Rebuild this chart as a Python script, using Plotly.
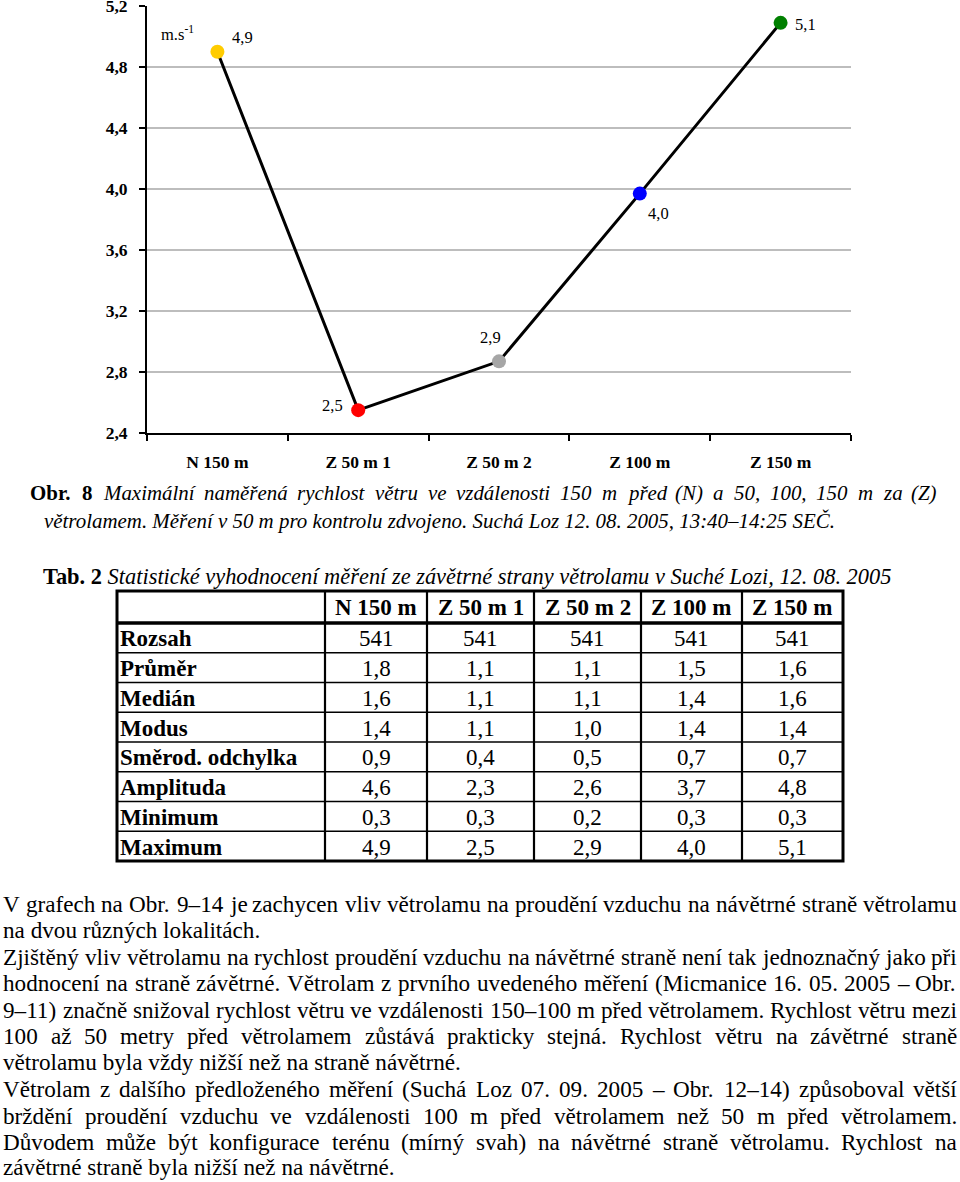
import unicodedata
import plotly.graph_objects as go

# ---------------- data ----------------
categories = ["N 150 m", "Z 50 m 1", "Z 50 m 2", "Z 100 m", "Z 150 m"]
max_speed = [4.9, 2.55, 2.87, 3.97, 5.09]
max_speed_labels = ["4,9", "2,5", "2,9", "4,0", "5,1"]
y_ticks = [2.4, 2.8, 3.2, 3.6, 4.0, 4.4, 4.8, 5.2]

table_columns = ["N 150 m", "Z 50 m 1", "Z 50 m 2", "Z 100 m", "Z 150 m"]
table_rows = ["Rozsah", "Průměr", "Medián", "Modus", "Směrod. odchylka",
              "Amplituda", "Minimum", "Maximum"]
rozsah = ["541", "541", "541", "541", "541"]
prumer = ["1,8", "1,1", "1,1", "1,5", "1,6"]
median = ["1,6", "1,1", "1,1", "1,4", "1,6"]
modus = ["1,4", "1,1", "1,0", "1,4", "1,4"]
smer_odchylka = ["0,9", "0,4", "0,5", "0,7", "0,7"]
amplituda = ["4,6", "2,3", "2,6", "3,7", "4,8"]
minimum = ["0,3", "0,3", "0,2", "0,3", "0,3"]
maximum = ["4,9", "2,5", "2,9", "4,0", "5,1"]
table_values = [rozsah, prumer, median, modus, smer_odchylka, amplituda, minimum, maximum]

fig_caption_label = "Obr. 8"
fig_caption_lines = [
    "Maximální naměřená rychlost větru ve vzdálenosti 150 m před (N) a 50, 100, 150 m za (Z)",
    "větrolamem. Měření v 50 m pro kontrolu zdvojeno. Suchá Loz 12. 08. 2005, 13:40–14:25 SEČ.",
]
tab_caption_label = "Tab. 2"
tab_caption = "Statistické vyhodnocení měření ze závětrné strany větrolamu v Suché Lozi, 12. 08. 2005"

paragraph_lines = [
    "V grafech na Obr. 9–14 je zachycen vliv větrolamu na proudění vzduchu na návětrné straně větrolamu",
    "na dvou různých lokalitách.",
    "Zjištěný vliv větrolamu na rychlost proudění vzduchu na návětrné straně není tak jednoznačný jako při",
    "hodnocení na straně závětrné. Větrolam z prvního uvedeného měření (Micmanice 16. 05. 2005 – Obr.",
    "9–11) značně snižoval rychlost větru ve vzdálenosti 150–100 m před větrolamem. Rychlost větru mezi",
    "100 až 50 metry před větrolamem zůstává prakticky stejná. Rychlost větru na závětrné straně",
    "větrolamu byla vždy nižší než na straně návětrné.",
    "Větrolam z dalšího předloženého měření (Suchá Loz 07. 09. 2005 – Obr. 12–14) způsoboval větší",
    "brždění proudění vzduchu ve vzdálenosti 100 m před větrolamem než 50 m před větrolamem.",
    "Důvodem může být konfigurace terénu (mírný svah) na návětrné straně větrolamu. Rychlost na",
    "závětrné straně byla nižší než na návětrné.",
]
paragraph_justified = [True, False, True, True, True, True, False, True, True, True, False]

# ---------------- styles / layout ----------------
W, H = 960, 1182
FONT = "Liberation Serif"
marker_colors = ["#FFCC00", "#FF0000", "#A6A6A6", "#0000FF", "#008000"]
label_shifts = [(25, 14), (-26, 5), (-9, 24), (19, -20), (25, -2)]

# Times / Liberation Serif advance widths (1/1000 em)
LOW = "abcdefghijklmnopqrstuvwxyz"
UPP = "ABCDEFGHIJKLMNOPQRSTUVWXYZ"
_w = {
    "r": (dict(zip(LOW, [444, 500, 444, 500, 444, 333, 500, 500, 278, 278, 500, 278, 778, 500, 500, 500, 500, 333, 389, 278, 500, 500, 722, 500, 500, 444])),
          dict(zip(UPP, [722, 667, 667, 722, 611, 556, 722, 722, 333, 389, 722, 611, 889, 722, 722, 556, 722, 667, 556, 611, 722, 722, 944, 722, 722, 611])),
          {" ": 250, ",": 250, ".": 250, ":": 278, "(": 333, ")": 333, "-": 333, "–": 500}),
    "i": (dict(zip(LOW, [500, 500, 444, 500, 444, 278, 500, 500, 278, 278, 444, 278, 722, 500, 500, 500, 500, 389, 389, 278, 500, 444, 667, 444, 444, 389])),
          dict(zip(UPP, [611, 611, 667, 722, 611, 611, 722, 722, 333, 444, 667, 556, 833, 667, 722, 611, 722, 611, 500, 556, 722, 611, 833, 611, 556, 556])),
          {" ": 250, ",": 250, ".": 250, ":": 333, "(": 333, ")": 333, "-": 333, "–": 500}),
    "b": (dict(zip(LOW, [500, 556, 444, 556, 444, 333, 500, 556, 278, 333, 556, 278, 833, 556, 500, 556, 556, 444, 389, 333, 556, 500, 722, 500, 500, 444])),
          dict(zip(UPP, [722, 667, 722, 722, 667, 611, 778, 778, 389, 500, 778, 667, 944, 722, 778, 611, 778, 722, 556, 667, 722, 722, 1000, 722, 722, 667])),
          {" ": 250, ",": 250, ".": 250, ":": 333, "(": 333, ")": 333, "-": 333, "–": 500}),
}


def em_width(text, style="r"):
    low, upp, punct = _w[style]
    total = 0
    for ch in text:
        base = unicodedata.normalize("NFD", ch)[0]
        if base.isdigit():
            total += 500
        elif base in low:
            total += low[base]
        elif base in upp:
            total += upp[base]
        else:
            total += punct.get(base, 500)
    return total / 1000.0


def px(x):
    return x / W


def py(y):
    return 1 - y / H


annotations = []


def wrap(word, style):
    if style == "b":
        return "<b>" + word + "</b>"
    if style == "i":
        return "<i>" + word + "</i>"
    return word


def ann(x, y, text, size, xanchor="left"):
    annotations.append(dict(x=px(x), y=py(y), xref="paper", yref="paper", text=text,
                            showarrow=False, xanchor=xanchor, yanchor="middle",
                            font=dict(family=FONT, size=size, color="black")))


def place_words(words, x0, x1, y, size, justify):
    """words: list of (word, style); each word is a text of its own."""
    widths = [em_width(w, s) * size for w, s in words]
    if justify:
        gap = (x1 - x0 - sum(widths)) / max(len(words) - 1, 1)
    else:
        gap = 0.25 * size
    x = x0
    for (w, s), wd in zip(words, widths):
        ann(x, y, wrap(w, s), size)
        x += wd + gap


# ---------------- chart ----------------
fig = go.Figure()
fig.add_trace(go.Scatter(
    x=categories, y=max_speed, mode="lines+markers",
    line=dict(color="black", width=3),
    marker=dict(color=marker_colors, size=14, line=dict(width=0)),
    hoverinfo="skip", showlegend=False, cliponaxis=False,
))

for c, v, t, (dx, dy) in zip(categories, max_speed, max_speed_labels, label_shifts):
    annotations.append(dict(x=c, y=v, xref="x", yref="y", text=t, showarrow=False,
                            xshift=dx, yshift=dy,
                            font=dict(family=FONT, size=16.5, color="black")))
ann(159, 33, "m.s<sup>-1</sup>", 16.5)

# ---------------- captions ----------------
cap_size = 794 / em_width(fig_caption_lines[1], "i")
line1 = [(w, "b") for w in fig_caption_label.split()] + [(w, "i") for w in fig_caption_lines[0].split()]
place_words(line1, 28, 935, 493, cap_size, True)
ann(42, 521, wrap(fig_caption_lines[1], "i"), cap_size)
tab_size = 852 / (em_width(tab_caption_label, "b") + 0.25 + em_width(tab_caption, "i"))
ann(41, 576, wrap(tab_caption_label, "b") + " " + wrap(tab_caption, "i"), tab_size)

# ---------------- table ----------------
col_x = [117, 325, 427, 534, 641, 742, 843]
top, head_bot = 591, 623
row_h = 29.75
row_y = [head_bot + row_h * i for i in range(len(table_rows) + 1)]
bottom = row_y[-1]
TS = 23

shapes = []
for x in col_x[1:-1]:
    shapes.append(dict(type="line", xref="paper", yref="paper", x0=px(x), x1=px(x),
                       y0=py(top), y1=py(bottom), line=dict(color="black", width=2.2)))
for y in row_y[1:-1]:
    shapes.append(dict(type="line", xref="paper", yref="paper", x0=px(col_x[0]), x1=px(col_x[-1]),
                       y0=py(y), y1=py(y), line=dict(color="black", width=1.5)))
shapes.append(dict(type="line", xref="paper", yref="paper", x0=px(col_x[0]), x1=px(col_x[-1]),
                   y0=py(head_bot), y1=py(head_bot), line=dict(color="black", width=3.5)))
shapes.append(dict(type="rect", xref="paper", yref="paper", x0=px(col_x[0]), x1=px(col_x[-1]),
                   y0=py(top), y1=py(bottom), line=dict(color="black", width=3)))

for j, name in enumerate(table_columns):
    cx = (col_x[j + 1] + col_x[j + 2]) / 2
    ann(cx, (top + head_bot) / 2 + 1, wrap(name, "b"), TS, xanchor="center")
for i, rname in enumerate(table_rows):
    cy = (row_y[i] + row_y[i + 1]) / 2 + 1
    ann(col_x[0] + 1, cy, wrap(rname, "b"), TS)
    for j, val in enumerate(table_values[i]):
        cx = (col_x[j + 1] + col_x[j + 2]) / 2
        ann(cx, cy, val, TS, xanchor="center")

# ---------------- paragraph ----------------
P_X0, P_X1 = 1, 955
para_y = [904, 930, 957, 983, 1010, 1036, 1062, 1089, 1116, 1142, 1167]
P_SIZE = 23.4
for t, j in zip(paragraph_lines, paragraph_justified):
    if j:
        P_SIZE = min(P_SIZE, (P_X1 - P_X0 - 2) / em_width(t, "r"))
for t, y, j in zip(paragraph_lines, para_y, paragraph_justified):
    if j:
        place_words([(w, "r") for w in t.split()], P_X0, P_X1, y, P_SIZE, True)
    else:
        ann(P_X0, y, t, P_SIZE)

tick_font = dict(family=FONT, size=17.5, color="black")

fig.update_layout(
    width=W, height=H, margin=dict(l=0, r=0, t=0, b=0, autoexpand=False),
    paper_bgcolor="white", plot_bgcolor="white",
    font=dict(family=FONT, color="black"),
    separators=", ",
    showlegend=False,
    annotations=annotations, shapes=shapes,
    xaxis=dict(domain=[px(147), px(851)], type="category", range=[-0.5, 4.5],
               tickmode="array", tickvals=categories,
               ticktext=[wrap(c, "b") for c in categories],
               showline=True, linecolor="black", linewidth=2, automargin=False,
               ticks="outside", tickson="boundaries", ticklen=6, tickwidth=2, tickcolor="black",
               showgrid=False, ticklabelstandoff=12, tickfont=tick_font),
    yaxis=dict(domain=[py(433), py(6)], range=[2.4, 5.2005], tickmode="array", tickvals=y_ticks,
               ticktext=[wrap(f"{v:.1f}".replace(".", ","), "b") for v in y_ticks],
               showline=True, linecolor="black", linewidth=2, automargin=False,
               ticks="outside", ticklen=6, tickwidth=2, tickcolor="black",
               showgrid=True, gridcolor="#BDBDBD", gridwidth=1.5, zeroline=False,
               ticklabelstandoff=8, ticklabeloverflow="allow", tickfont=tick_font),
)

fig.write_html("out.html")
